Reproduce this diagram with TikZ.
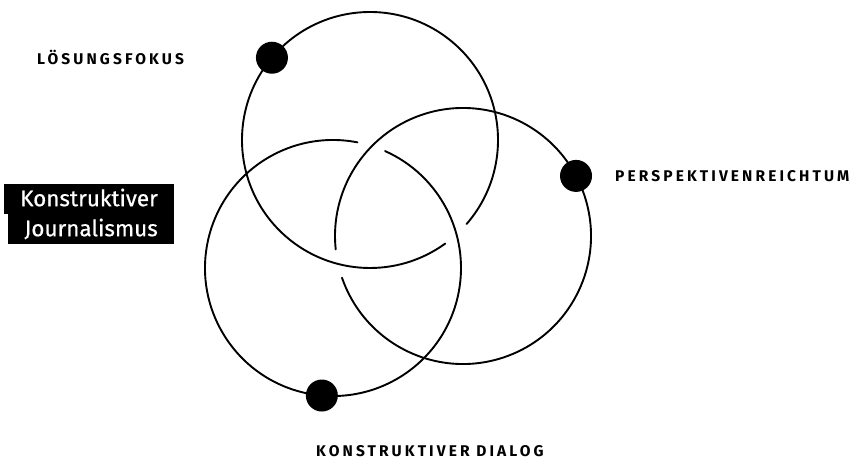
\documentclass[tikz,border=0pt]{standalone}
\usepackage{fontspec}
\setmainfont{Fira Sans}
\newfontfamily\tagfont[LetterSpace=20]{Fira Sans}
\newfontfamily\kjfont[FakeBold=0.6]{Fira Sans}
\begin{document}
\begin{tikzpicture}[
  ringtag/.style={font=\tagfont\bfseries\fontsize{15.5}{18}\selectfont, inner sep=0pt},
  kjbox/.style={fill=black, text=white, font=\kjfont\fontsize{22.5}{26}\selectfont,
    inner xsep=16pt, inner ysep=1pt, text height=21pt, text depth=7pt}
]
% Three interlocked rings with one dot and one tag each
\def\ringr{128}
\providecommand{\ringLineColor}{black}
\providecommand{\ringLineWidth}{1.9pt}
\providecommand{\ringDotRadius}{16}
\begin{scope}[x=1pt, y=1pt, line cap=round, line join=round]
  % Page frame
  \useasboundingbox (0,0) rectangle (853,459);
  % Rings, each one broken where it runs under the next
  \begin{scope}[draw=\ringLineColor, line width=\ringLineWidth]
    \draw ([shift={(-41:\ringr)}]370,319) arc[start angle=-41, end angle=306, radius=\ringr];
    \draw ([shift={(199:\ringr)}]463,223) arc[start angle=199, end angle=546, radius=\ringr];
    \draw ([shift={(79:\ringr)}]333,191) arc[start angle=79, end angle=426, radius=\ringr];
  \end{scope}
  % Dots on the rings
  \begin{scope}[fill=\ringLineColor]
    \fill ([shift={(140:\ringr)}]370,319) circle[radius=\ringDotRadius];
    \fill ([shift={(28:\ringr)}]463,223) circle[radius=\ringDotRadius];
    \fill ([shift={(265:\ringr)}]333,191) circle[radius=\ringDotRadius];
  \end{scope}
  % Tags
  \node[ringtag, anchor=base west] (fokus) at (37,395) {LÖSUNGSFOKUS};
  \node[ringtag, anchor=base west] (perspektive) at (615,278) {PERSPEKTIVENREICHTUM};
  \node[ringtag, anchor=base west] (dialog) at (316,3) {KONSTRUKTIVER DIALOG};
  % Title block
  \node[kjbox, anchor=north east] (kjtop) at (174,275) {Konstruktiver};
  \node[kjbox, anchor=north east] (kjbottom) at (174,245) {Journalismus};
\end{scope}
\end{tikzpicture}
\end{document}
